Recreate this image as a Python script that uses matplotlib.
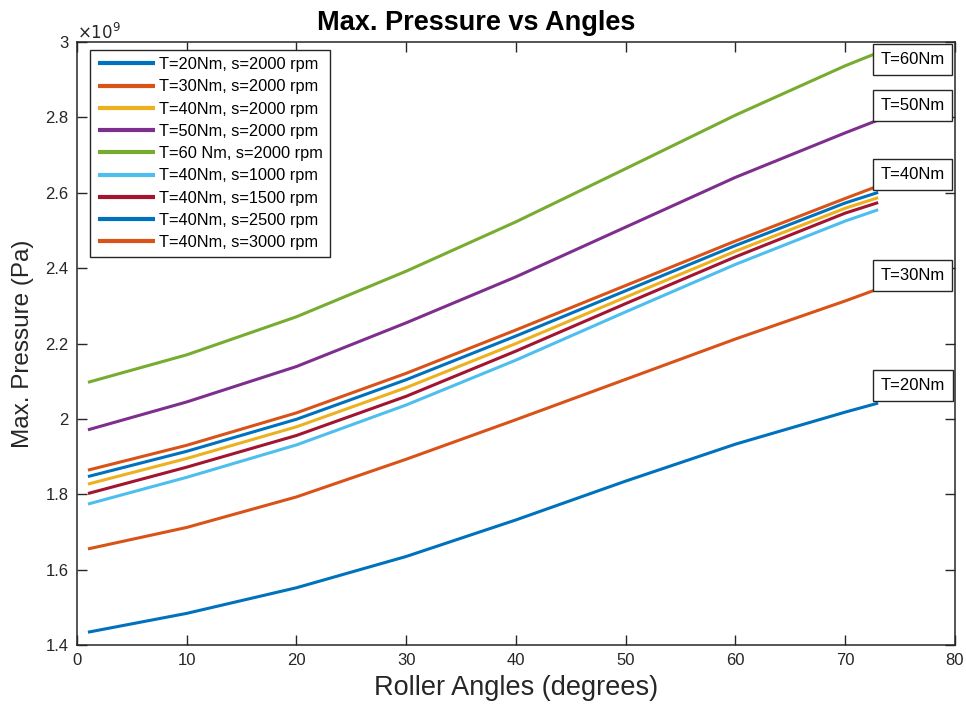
import numpy as np
import matplotlib
matplotlib.use("Agg")
import matplotlib.pyplot as plt
from matplotlib.ticker import FuncFormatter, MultipleLocator

plt.rcParams['font.family'] = ['Liberation Sans', 'DejaVu Sans']

# roller angle (degrees) where the curves were read
angles = [1, 10, 20, 30, 40, 50, 60, 70, 73]

# max. pressure, in units of 1e9 Pa
p_t20_s2000 = [1.434, 1.484, 1.552, 1.635, 1.732, 1.835, 1.933, 2.018, 2.042]
p_t30_s2000 = [1.655, 1.712, 1.793, 1.893, 1.998, 2.105, 2.212, 2.313, 2.345]
p_t40_s2000 = [1.827, 1.895, 1.979, 2.083, 2.200, 2.323, 2.445, 2.559, 2.587]
p_t50_s2000 = [1.971, 2.045, 2.139, 2.255, 2.377, 2.509, 2.641, 2.759, 2.793]
p_t60_s2000 = [2.097, 2.170, 2.271, 2.392, 2.523, 2.664, 2.806, 2.937, 2.972]
p_t40_s1000 = [1.774, 1.845, 1.931, 2.037, 2.156, 2.284, 2.410, 2.525, 2.555]
p_t40_s1500 = [1.802, 1.872, 1.956, 2.060, 2.180, 2.306, 2.430, 2.546, 2.574]
p_t40_s2500 = [1.847, 1.914, 1.999, 2.104, 2.220, 2.340, 2.460, 2.573, 2.601]
p_t40_s3000 = [1.864, 1.930, 2.016, 2.121, 2.236, 2.354, 2.472, 2.585, 2.618]

series = [p_t20_s2000, p_t30_s2000, p_t40_s2000, p_t50_s2000, p_t60_s2000,
          p_t40_s1000, p_t40_s1500, p_t40_s2500, p_t40_s3000]
labels = ['T=20Nm, s=2000 rpm', 'T=30Nm, s=2000 rpm', 'T=40Nm, s=2000 rpm',
          'T=50Nm, s=2000 rpm', 'T=60 Nm, s=2000 rpm', 'T=40Nm, s=1000 rpm',
          'T=40Nm, s=1500 rpm', 'T=40Nm, s=2500 rpm', 'T=40Nm, s=3000 rpm']
colors = ['#0072BD', '#D95319', '#EDB120', '#7E2F8E', '#77AC30',
          '#4DBEEE', '#A2142F', '#0072BD', '#D95319']

# torque labels at the right end of the curves
torque_labels = ['T=20Nm', 'T=30Nm', 'T=40Nm', 'T=50Nm', 'T=60Nm']
torque_label_y = [2.089, 2.380, 2.648, 2.832, 2.954]

dark = '#262626'

fig = plt.figure(figsize=(9.66, 7.11), dpi=100)
ax = fig.add_axes([0.0797, 0.0928, 0.9089, 0.8481])

for vals, lab, col in zip(series, labels, colors):
    ax.plot(angles, np.array(vals) * 1e9, color=col, lw=2.2, label=lab,
            solid_capstyle='butt')

for txt, yv in zip(torque_labels, torque_label_y):
    ax.text(73.2, yv * 1e9, txt, fontsize=12, color='black', ha='left', va='center',
            bbox=dict(boxstyle='square,pad=0.47', fc='white', ec=dark, lw=1.0))

ax.set_xlim(0, 80)
ax.set_ylim(1.4e9, 3.0e9)
ax.xaxis.set_major_locator(MultipleLocator(10))
ax.yaxis.set_major_locator(MultipleLocator(0.2e9))
ax.yaxis.set_major_formatter(FuncFormatter(lambda v, p: '%g' % round(v / 1e9, 2)))
ax.text(0.0, 1.0, r'$\times10^{9}$', transform=ax.transAxes, fontsize=12,
        color=dark, ha='left', va='bottom')

ax.tick_params(direction='in', length=7, width=1.0, colors=dark, labelsize=12,
               top=True, right=True, pad=6)
for sp in ax.spines.values():
    sp.set_color(dark)
    sp.set_linewidth(1.1)

ax.set_title('Max. Pressure vs Angles', fontsize=19.5, fontweight='bold', pad=9,
             x=0.455)
ax.set_xlabel('Roller Angles (degrees)', fontsize=19.5, color=dark, labelpad=5)
ax.set_ylabel('Max. Pressure (Pa)', fontsize=17.5, color=dark, labelpad=8)

leg = ax.legend(loc='upper left', bbox_to_anchor=(0.015, 0.987), borderaxespad=0,
                fontsize=11.8, frameon=True, fancybox=False, framealpha=1,
                handlelength=3.5, handletextpad=0.25, labelspacing=0.44,
                borderpad=0.45)
leg.get_frame().set_edgecolor(dark)
leg.get_frame().set_linewidth(1.0)
for ln in leg.get_lines():
    ln.set_linewidth(3.0)

fig.savefig('out.png', dpi=100)
